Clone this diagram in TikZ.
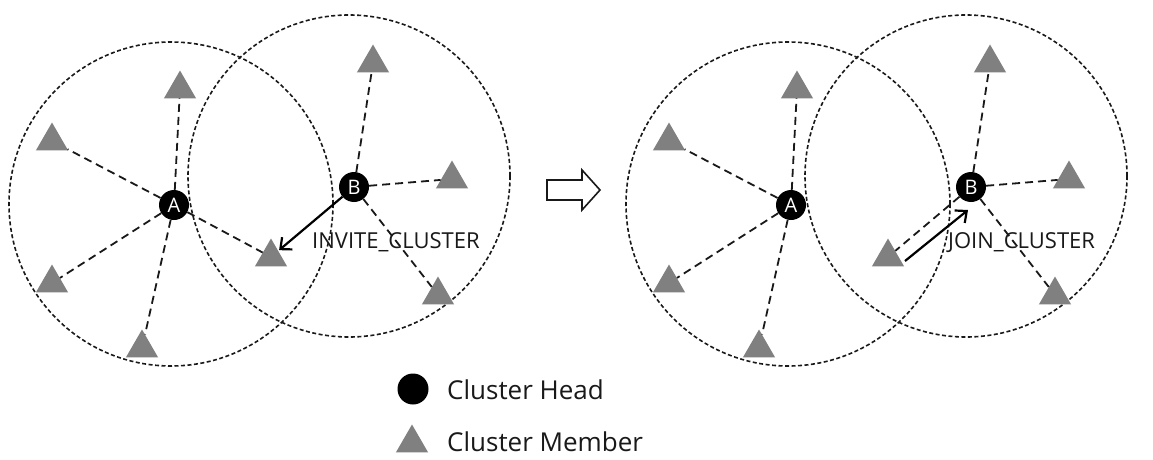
\documentclass[tikz,border=0pt]{standalone}
\usepackage{fontspec}
\setmainfont{Open Sans}
\usetikzlibrary{shapes.geometric,arrows.meta,calc}
\definecolor{memgray}{RGB}{128,128,128}
\definecolor{ink}{RGB}{25,25,25}
\tikzset{
  chnode/.style={circle, fill=black, inner sep=0pt, minimum size=30pt, text=white, font=\fontsize{20}{20}\selectfont},
  cmnode/.style={regular polygon, regular polygon sides=3, fill=memgray, inner sep=0pt, minimum size=37pt},
  linkline/.style={draw=ink, line width=1.8pt, dash pattern=on 8pt off 5pt},
  rangecircle/.style={draw=ink, line width=1.6pt, dash pattern=on 4pt off 2.5pt},
  msgarrow/.style={draw=black, line width=2.2pt, -{Straight Barb[length=9pt,width=16pt]}},
  msglabel/.style={font=\fontsize{22}{22}\selectfont, text=ink, inner sep=0pt, anchor=base west},
  legendtext/.style={font=\fontsize{26}{26}\selectfont, text=ink, inner sep=0pt, anchor=base west},
}
\begin{document}
\begin{tikzpicture}[x=1pt,y=-1pt]
\useasboundingbox[fill=white] (0,0) rectangle (1153,460);

% ---------- left panel ----------
\draw[rangecircle] (171,204) circle[radius=162];
\draw[rangecircle] (349,176) circle[radius=161];
\node[cmnode] (L1) at (180,89) {};
\node[cmnode] (L2) at (52,141) {};
\node[cmnode] (L3) at (52,283) {};
\node[cmnode] (L4) at (142,348) {};
\node[cmnode] (L5) at (271,257) {};
\node[cmnode] (L6) at (373,63) {};
\node[cmnode] (L7) at (452,179) {};
\node[cmnode] (L8) at (438,295) {};
\node[chnode] (LA) at (174,205) {A};
\node[chnode] (LB) at (354,187) {B};
\foreach \t in {L1,L2,L3,L4,L5} \draw[linkline] (LA) -- (\t);
\foreach \t in {L6,L7,L8} \draw[linkline] (LB) -- (\t);
\draw[msgarrow, shorten >=1pt] (LB) -- (L5);
\node[msglabel] (inv) at (312,248) {INVITE\_CLUSTER};

% ---------- transition arrow ----------
\draw[draw=ink, line width=1.6pt, fill=white, line join=miter]
  (547,180) -- (582,180) -- (582,170) -- (600,190) -- (582,210) -- (582,200) -- (547,200) -- cycle;

% ---------- right panel ----------
\begin{scope}[xshift=617pt]
\draw[rangecircle] (171,204) circle[radius=162];
\draw[rangecircle] (349,176) circle[radius=161];
\node[cmnode] (R1) at (180,89) {};
\node[cmnode] (R2) at (52,141) {};
\node[cmnode] (R3) at (52,283) {};
\node[cmnode] (R4) at (142,348) {};
\node[cmnode] (R5) at (271,257) {};
\node[cmnode] (R6) at (373,63) {};
\node[cmnode] (R7) at (452,179) {};
\node[cmnode] (R8) at (438,295) {};
\node[chnode] (RA) at (174,205) {A};
\node[chnode] (RB) at (354,187) {B};
\foreach \t in {R1,R2,R3,R4} \draw[linkline] (RA) -- (\t);
\foreach \t in {R5,R6,R7,R8} \draw[linkline] (RB) -- (\t);
\coordinate (js) at ([shift={(17,4)}]R5.center);
\coordinate (je) at ([shift={(-3,23)}]RB.center);
\draw[msgarrow] (js) -- (je);
\node[msglabel] (join) at (331,248) {JOIN\_CLUSTER};
\end{scope}

% ---------- legend ----------
\node[chnode, minimum size=31pt] (lgh) at (413,389) {};
\node[cmnode] (lgm) at (412,443) {};
\node[legendtext] (lght) at (447,399) {Cluster Head};
\node[legendtext] (lgmt) at (447,451) {Cluster Member};
\end{tikzpicture}
\end{document}
